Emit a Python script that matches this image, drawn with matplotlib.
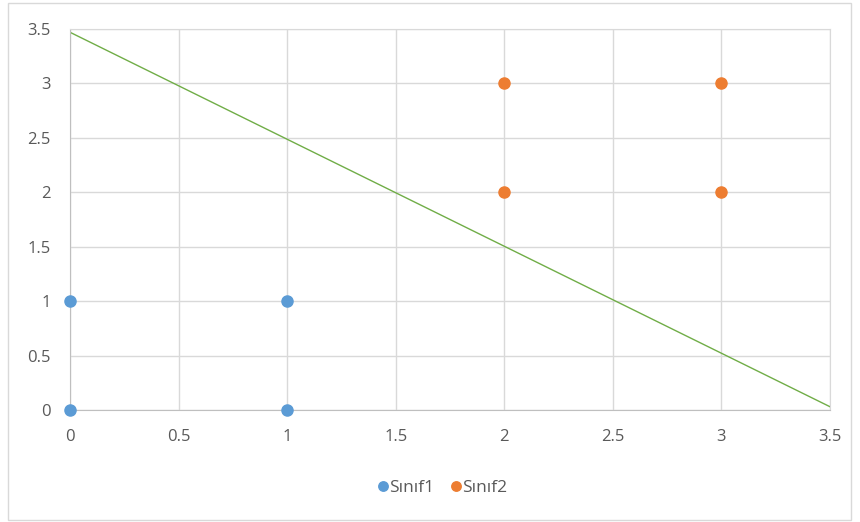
import matplotlib
matplotlib.use('Agg')
import matplotlib.pyplot as plt
from matplotlib.patches import Rectangle

plt.rcParams["font.family"] = ["Open Sans", "DejaVu Sans"]

# veriler
sinif1_x = [0, 0, 1, 1]
sinif1_y = [0, 1, 0, 1]
sinif2_x = [2, 2, 3, 3]
sinif2_y = [2, 3, 2, 3]
cizgi_x = [0, 3.5]
cizgi_y = [3.47, 0.03]
ticks = [0, 0.5, 1, 1.5, 2, 2.5, 3, 3.5]
tick_labels = ['0', '0.5', '1', '1.5', '2', '2.5', '3', '3.5']

fig = plt.figure(figsize=(8.6, 5.22), dpi=100)
ax = fig.add_axes([70 / 860, 1 - 410 / 522, 760 / 860, 381 / 522])

grid_c = '#D9D9D9'
ax.set_xlim(0, 3.5)
ax.set_ylim(0, 3.5)
ax.set_xticks(ticks)
ax.set_yticks(ticks)
ax.set_xticklabels(tick_labels)
ax.set_yticklabels(tick_labels)
ax.grid(True, color=grid_c, lw=1)
ax.set_axisbelow(True)
for s in ['top', 'right']:
    ax.spines[s].set_color(grid_c)
for s in ['left', 'bottom']:
    ax.spines[s].set_color('#BFBFBF')
ax.tick_params(length=0, labelsize=12, labelcolor='#595959')
ax.tick_params(axis='x', pad=14)
ax.tick_params(axis='y', pad=14)

ax.plot(cizgi_x, cizgi_y, color='#70AD47', lw=1, zorder=2)
ax.plot(sinif1_x, sinif1_y, 'o', color='#5B9BD5', ms=8, label='Sınıf1', clip_on=False, zorder=3)
ax.plot(sinif2_x, sinif2_y, 'o', color='#ED7D31', ms=8, label='Sınıf2', clip_on=False, zorder=3)

leg = fig.legend(loc='center', bbox_to_anchor=(443 / 860, 1 - 488 / 522), ncol=2, frameon=False,
                 fontsize=12.5, handlelength=0.5, handletextpad=0.1, columnspacing=1.0, markerscale=0.85)
for t in leg.get_texts():
    t.set_color('#595959')

fig.patches.append(Rectangle((8 / 860, 2 / 522), 843 / 860, 517 / 522, transform=fig.transFigure,
                             fill=False, edgecolor='#D9D9D9', lw=1))

fig.savefig('out.png', dpi=100)
